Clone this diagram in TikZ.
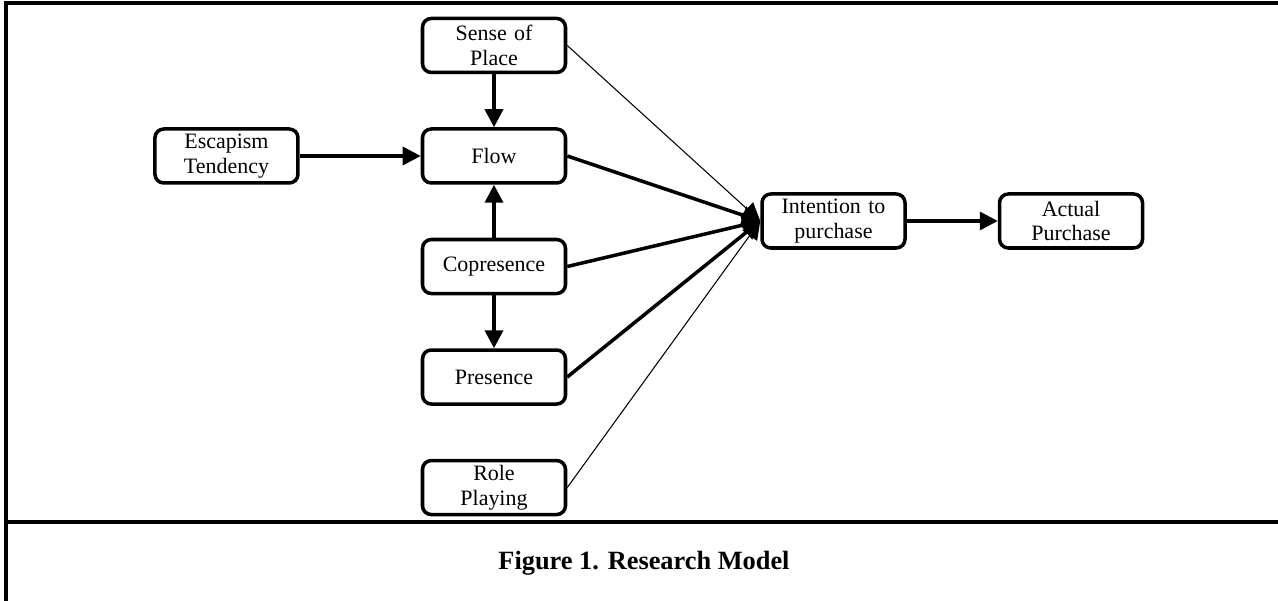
\documentclass[tikz,border=0pt]{standalone}
\usepackage{fontspec}
\setmainfont{Liberation Serif}
\usetikzlibrary{arrows.meta, positioning}

\begin{document}
\begin{tikzpicture}[
    node distance=1.06cm,
    block/.style={
        rectangle, draw=black, line width=2pt, rounded corners=5pt,
        minimum width=2.86cm, minimum height=1.08cm, text width=2.7cm, align=center,
        inner sep=1pt, font=\fontsize{12.5}{14.2}\selectfont
    },
    line/.style={draw, -{Triangle[length=0.36cm, width=0.36cm]}, line width=2pt},
    thinline/.style={line, line width=0.6pt},
    frame/.style={draw, line width=1.8pt}
]
    \useasboundingbox (-9.88,-8.9) rectangle (15.68,3.12);

    % outer frame and caption row
    \draw [frame] (-9.76,-9.0) -- (-9.76,3.06) -- (15.8,3.06);
    \draw [frame] (-9.76,-7.32) -- (15.8,-7.32);
    \node [font=\bfseries\fontsize{15}{18}\selectfont] (caption) at (3.0,-8.14) {Figure 1. Research Model};

    \node [block]                      (flow)   {Flow};
    \node [block, above=of flow]       (place)  {Sense of\\Place};
    \node [block, left=2.42cm of flow] (escape) {Escapism\\Tendency};
    \node [block, below=of flow]       (copres) {Copresence};
    \node [block, below=of copres]     (pres)   {Presence};
    \node [block, below=of pres]       (role)   {Role\\Playing};
    \node [block, right=3.86cm of flow, yshift=-1.3cm] (intent) {Intention to\\purchase};
    \node [block, right=1.82cm of intent] (actual) {Actual\\Purchase};

    \path [line] (place)  -- (flow);
    \path [line] (escape) -- (flow);
    \path [line] (copres) -- (flow);
    \path [line] (copres) -- (pres);
    \path [thinline] (place.east) -- (intent.west);
    \path [line] (flow.east)   -- (intent.west);
    \path [line] (copres.east) -- (intent.west);
    \path [line] (pres.east)   -- (intent.west);
    \path [thinline] (role.east) -- (intent.west);
    \path [line] (intent) -- (actual);
\end{tikzpicture}
\end{document}
